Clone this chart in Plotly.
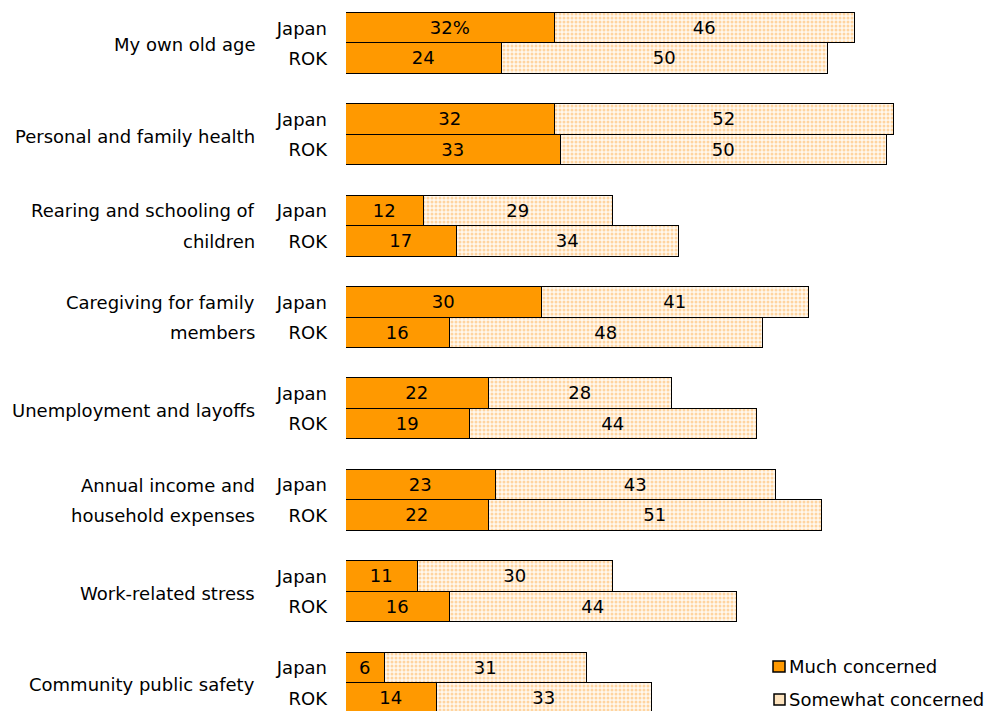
import plotly.graph_objects as go

groups = [
    ["My own old age"],
    ["Personal and family health"],
    ["Rearing and schooling of", "children"],
    ["Caregiving for family", "members"],
    ["Unemployment and layoffs"],
    ["Annual income and", "household expenses"],
    ["Work-related stress"],
    ["Community public safety"],
]
countries = ["Japan", "ROK"]
much_japan = [32, 32, 12, 30, 22, 23, 11, 6]
much_rok = [24, 33, 17, 16, 19, 22, 16, 14]
some_japan = [46, 52, 29, 41, 28, 43, 30, 31]
some_rok = [50, 50, 34, 48, 44, 51, 44, 33]
series_names = ["Much concerned", "Somewhat concerned"]

FONT = "DejaVu Sans"
FS = 18
ORANGE = "#FF9900"

# category slots: Japan, ROK, gap for each group
cats, much_vals, some_vals, tickvals, ticktext = [], [], [], [], []
for i in range(len(groups)):
    for c, m, s in ((countries[0], much_japan[i], some_japan[i]), (countries[1], much_rok[i], some_rok[i])):
        key = f"g{i}_{c}"
        cats.append(key)
        much_vals.append(m)
        some_vals.append(s)
        tickvals.append(key)
        ticktext.append(c)
    if i < len(groups) - 1:
        cats.append(f"g{i}_gap")
        much_vals.append(None)
        some_vals.append(None)

much_text = ["" if v is None else str(v) for v in much_vals]
much_text[0] = f"{much_vals[0]}%"
some_text = ["" if v is None else str(v) for v in some_vals]

fig = go.Figure()
fig.add_trace(go.Bar(
    y=cats, x=much_vals, orientation="h", name=series_names[0],
    marker=dict(color=ORANGE, line=dict(color="black", width=1.5)),
    text=much_text, textposition="inside", insidetextanchor="middle",
    textangle=0, constraintext="none",
    textfont=dict(family=FONT, size=FS, color="black"),
    showlegend=False,
))
fig.add_trace(go.Bar(
    y=cats, x=some_vals, orientation="h", name=series_names[1],
    marker=dict(color="white", line=dict(color="black", width=1.5),
                pattern=dict(shape=".", fgcolor="#FFB050", bgcolor="#FFF8EE",
                             size=4, solidity=0.45)),
    text=some_text, textposition="inside", insidetextanchor="middle",
    textangle=0, constraintext="none",
    textfont=dict(family=FONT, size=FS, color="black"),
    showlegend=False,
))

annotations = []
for i, lines in enumerate(groups):
    if len(lines) == 1:
        annotations.append(dict(
            x=0, xref="paper", xshift=-89, xanchor="right",
            y=3 * i + 0.55, yref="y", yanchor="middle",
            text=lines[0], showarrow=False,
            font=dict(family=FONT, size=FS, color="black"),
        ))
    else:
        for j, ln in enumerate(lines):
            annotations.append(dict(
                x=0, xref="paper", xshift=-89, xanchor="right",
                y=3 * i + j, yref="y", yanchor="middle",
                text=ln, showarrow=False,
                font=dict(family=FONT, size=FS, color="black"),
            ))

# manual legend
shapes = [
    dict(type="rect", xref="paper", yref="paper",
         x0=(773 - 346) / 652, x1=(785 - 346) / 652,
         y0=1 - 672 / 711, y1=1 - 661 / 711,
         fillcolor=ORANGE, line=dict(color="black", width=1.5)),
    dict(type="rect", xref="paper", yref="paper",
         x0=(774 - 346) / 652, x1=(785 - 346) / 652,
         y0=1 - 705 / 711, y1=1 - 694 / 711,
         fillcolor="#FDE3BE", line=dict(color="black", width=1.5)),
]
annotations.append(dict(x=(787 - 346) / 652, xref="paper", xanchor="left",
                        y=1 - 666 / 711, yref="paper", yanchor="middle",
                        text=series_names[0], showarrow=False,
                        font=dict(family=FONT, size=FS, color="black")))
annotations.append(dict(x=(787 - 346) / 652, xref="paper", xanchor="left",
                        y=1 - 699 / 711, yref="paper", yanchor="middle",
                        text=series_names[1], showarrow=False,
                        font=dict(family=FONT, size=FS, color="black")))

fig.update_layout(
    barmode="stack", bargap=0,
    width=998, height=711,
    margin=dict(l=346, r=0, t=0, b=0),
    plot_bgcolor="white", paper_bgcolor="white",
    font=dict(family=FONT, size=FS, color="black"),
    annotations=annotations, shapes=shapes,
    xaxis=dict(range=[0, 100], visible=False, showgrid=False, zeroline=False),
    yaxis=dict(categoryorder="array", categoryarray=cats,
               range=[22.42, -0.926], tickvals=tickvals, ticktext=ticktext,
               ticks="", showgrid=False, zeroline=False, showline=False,
               ticklabelstandoff=18,
               tickfont=dict(family=FONT, size=FS, color="black")),
    uniformtext=dict(mode=False),
)

fig.write_html("out.html")
